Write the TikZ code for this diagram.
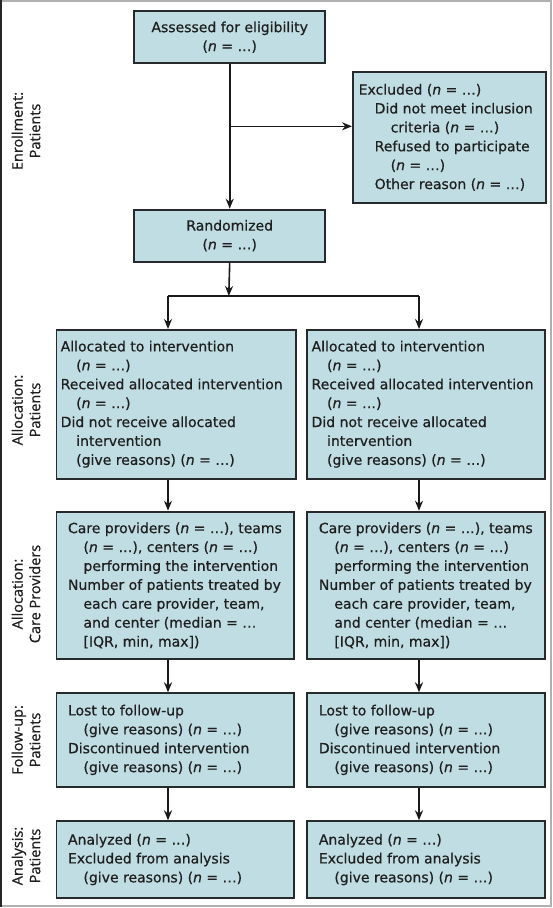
\documentclass[tikz,border=0pt]{standalone}
\usepackage{fontspec}
\setmainfont{DejaVu Sans}[UprightFeatures={FakeBold=0.6},ItalicFeatures={FakeBold=0.6}]
\newfontfamily\sidefont{Open Sans}[UprightFeatures={FakeBold=0.8}]
\usetikzlibrary{arrows.meta}
\definecolor{boxfill}{RGB}{191,221,227}
\definecolor{boxline}{RGB}{38,42,44}
\definecolor{framegray}{RGB}{176,176,176}
\newcommand{\nval}{(\textit{n} = …)}
\newcommand{\hind}{\hspace*{15.5pt}}
\begin{document}
\begin{tikzpicture}[x=1pt,y=-1pt,
  box/.style={draw=boxline, fill=boxfill, line width=1.8pt, anchor=north west,
    inner sep=0pt, align=center, text=black!88, font=\fontsize{14}{18.9}\selectfont},
  txt/.style={anchor=west, inner sep=0pt, align=left, text=black!88,
    font=\fontsize{14}{18.9}\selectfont},
  side/.style={rotate=90, align=center, inner sep=0pt, text=black!88,
    font=\sidefont\fontsize{14.5}{17.5}\selectfont},
  arr/.style={draw=black!90, line width=1.6pt, -{Stealth[length=10pt,width=8pt]}},
  conn/.style={draw=black!90, line width=1.6pt}]
\useasboundingbox (0,0) rectangle (553,908);
% frame
\draw[framegray, line width=1.8pt] (0.9,0.9) rectangle (551.1,906.1);
\draw[black!85, line width=1.8pt] (0.9,0) -- (0.9,907);

% side labels
\node[side] (s1) at (26,131) {Enrollment:\\Patients};
\node[side] (s2) at (26,410) {Allocation:\\Patients};
\node[side] (s3) at (26,594) {Allocation:\\Care Providers};
\node[side] (s4) at (26,740) {Follow-up:\\Patients};
\node[side] (s5) at (26,856) {Analysis:\\Patients};

% top boxes
\node[box, minimum width=191.2pt, minimum height=52pt] (ass) at (133.2,10.3)
  {Assessed for eligibility\\\nval};
\node[box, minimum width=193.2pt, minimum height=131.6pt] (exc) at (352,70.7) {};
\node[txt] (exct) at ([xshift=6.5pt]exc.west)
  {Excluded \nval\\
   \hspace*{16pt}Did not meet inclusion\\
   \hspace*{32pt}criteria \nval\\
   \hspace*{16pt}Refused to participate\\
   \hspace*{32pt}\nval\\
   \hspace*{16pt}Other reason \nval};
\node[box, minimum width=191.2pt, minimum height=52pt] (rand) at (133.2,208.7)
  {Randomized\\\nval};

% allocation
\node[box, minimum width=239.2pt, minimum height=148.7pt] (al1) at (55.5,329) {};
\node[box, minimum width=237.8pt, minimum height=148.7pt] (al2) at (306.4,329) {};
\node[txt] (al1t) at ([xshift=5pt]al1.west)
  {Allocated to intervention\\ \hind\nval\\ Received allocated intervention\\
   \hind\nval\\ Did not receive allocated\\ \hind intervention\\
   \hind(give reasons) \nval};
\node[txt] (al2t) at ([xshift=5pt]al2.west)
  {Allocated to intervention\\ \hind\nval\\ Received allocated intervention\\
   \hind\nval\\ Did not receive allocated\\ \hind intervention\\
   \hind(give reasons) \nval};

% care providers
\node[box, minimum width=237.8pt, minimum height=147.6pt] (cp1) at (55.5,510.7) {};
\node[box, minimum width=237.8pt, minimum height=147.6pt] (cp2) at (306.4,510.7) {};
\node[txt] (cp1t) at ([xshift=12.3pt]cp1.west)
  {Care providers \nval, teams\\ \hind\nval, centers \nval\\
   \hind performing the intervention\\ Number of patients treated by\\
   \hind each care provider, team,\\ \hind and center (median = …\\
   \hind [IQR, min, max])};
\node[txt] (cp2t) at ([xshift=12.3pt]cp2.west)
  {Care providers \nval, teams\\ \hind\nval, centers \nval\\
   \hind performing the intervention\\ Number of patients treated by\\
   \hind each care provider, team,\\ \hind and center (median = …\\
   \hind [IQR, min, max])};

% follow-up
\node[box, minimum width=237.8pt, minimum height=93.4pt] (fu1) at (55.5,692.3) {};
\node[box, minimum width=237.8pt, minimum height=93.4pt] (fu2) at (306.4,692.3) {};
\node[txt] (fu1t) at ([xshift=12.3pt]fu1.west)
  {Lost to follow-up\\ \hind(give reasons) \nval\\ Discontinued intervention\\
   \hind(give reasons) \nval};
\node[txt] (fu2t) at ([xshift=12.3pt]fu2.west)
  {Lost to follow-up\\ \hind(give reasons) \nval\\ Discontinued intervention\\
   \hind(give reasons) \nval};

% analysis
\node[box, minimum width=237.8pt, minimum height=76.7pt] (an1) at (55.5,820.3) {};
\node[box, minimum width=237.8pt, minimum height=76.7pt] (an2) at (306.4,820.3) {};
\node[txt] (an1t) at ([xshift=12.3pt]an1.west)
  {Analyzed \nval\\ Excluded from analysis\\ \hind(give reasons) \nval};
\node[txt] (an2t) at ([xshift=12.3pt]an2.west)
  {Analyzed \nval\\ Excluded from analysis\\ \hind(give reasons) \nval};

% connectors
\coordinate (j1) at (228.8,126.3);
\coordinate (sp) at (228.8,296);
\coordinate (spl) at (168,296);
\coordinate (spr) at (419,296);
\draw[arr] (ass.south) -- (rand.north);
\draw[arr] (j1) -- (j1 -| exc.west);
\draw[arr] (rand.south) -- (sp);
\draw[conn] (spl) -- (spr);
\draw[arr] (spl) -- (spl |- al1.north);
\draw[arr] (spr) -- (spr |- al2.north);
\draw[arr] (spl |- al1.south) -- (spl |- cp1.north);
\draw[arr] (spr |- al2.south) -- (spr |- cp2.north);
\draw[arr] (spl |- cp1.south) -- (spl |- fu1.north);
\draw[arr] (spr |- cp2.south) -- (spr |- fu2.north);
\draw[arr] (spl |- fu1.south) -- (spl |- an1.north);
\draw[arr] (spr |- fu2.south) -- (spr |- an2.north);
\end{tikzpicture}
\end{document}
